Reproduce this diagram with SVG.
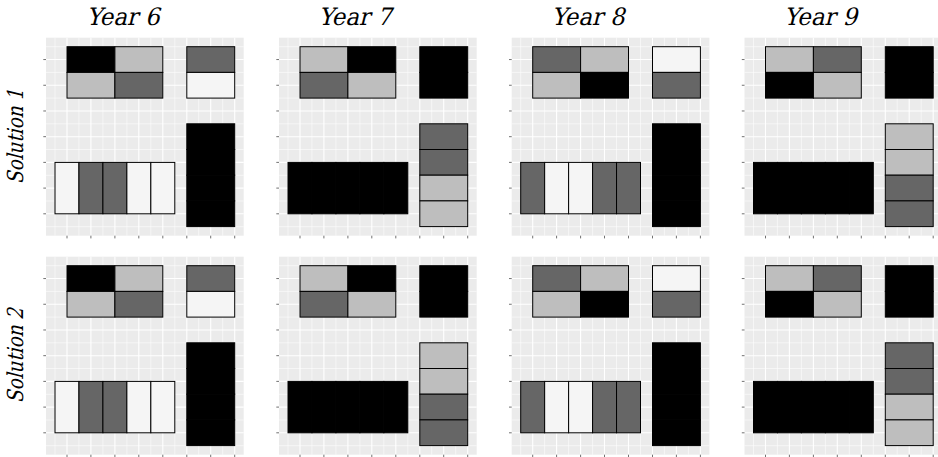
<svg xmlns="http://www.w3.org/2000/svg" xmlns:xlink="http://www.w3.org/1999/xlink" width="938" height="457" viewBox="0 0 938 457">
<style>
.maj{stroke:#fff;stroke-width:1.1;fill:none}
.min{stroke:#fff;stroke-width:0.55;fill:none}
.tick{stroke:#333;stroke-width:0.7;fill:none}
rect.t{stroke:#000;stroke-width:1}
.k{fill:#000}.d{fill:#666}.l{fill:#bebebe}.w{fill:#f5f5f5}
.tt{font-family:'DejaVu Serif',serif;font-size:24px;text-anchor:middle;fill:#000}
.st{font-family:'DejaVu Serif',serif;font-size:22px;text-anchor:middle;fill:#000}
</style>
<defs>
<g id="bg">
<rect x="0" y="0" width="197.7" height="198" fill="#ebebeb"/>
<path class="min" d="M9,0V198M32.9,0V198M56.9,0V198M80.9,0V198M104.8,0V198M128.8,0V198M152.7,0V198M176.7,0V198M0,9H197.7M0,34.7H197.7M0,60.4H197.7M0,86.1H197.7M0,111.8H197.7M0,137.6H197.7M0,163.3H197.7M0,189H197.7"/>
<path class="maj" d="M21,0V198M44.9,0V198M68.9,0V198M92.8,0V198M116.8,0V198M140.8,0V198M164.7,0V198M188.7,0V198M0,21.85H197.7M0,47.56H197.7M0,73.27H197.7M0,98.98H197.7M0,124.69H197.7M0,150.4H197.7M0,176.11H197.7"/>
<path class="tick" d="M21,198V200.7M44.9,198V200.7M68.9,198V200.7M92.8,198V200.7M116.8,198V200.7M140.8,198V200.7M164.7,198V200.7M188.7,198V200.7M-2.7,21.85H0M-2.7,47.56H0M-2.7,73.27H0M-2.7,98.98H0M-2.7,124.69H0M-2.7,150.4H0M-2.7,176.11H0"/>
</g>
</defs>
<g id="titles">
<text class="tt" transform="translate(123,25) skewX(-14)" textLength="73" lengthAdjust="spacingAndGlyphs">Year 6</text>
<text class="tt" transform="translate(355,25) skewX(-14)" textLength="73" lengthAdjust="spacingAndGlyphs">Year 7</text>
<text class="tt" transform="translate(588,25) skewX(-14)" textLength="73" lengthAdjust="spacingAndGlyphs">Year 8</text>
<text class="tt" transform="translate(820.5,25) skewX(-14)" textLength="73" lengthAdjust="spacingAndGlyphs">Year 9</text>
</g>
<g id="strips">
<text class="st" transform="translate(23,136.7) rotate(-90) skewX(-14)" textLength="95" lengthAdjust="spacingAndGlyphs">Solution 1</text>
<text class="st" transform="translate(23,355.7) rotate(-90) skewX(-14)" textLength="95" lengthAdjust="spacingAndGlyphs">Solution 2</text>
</g>

<!-- Row 1 -->
<g id="y6s1" transform="translate(46,37.7)">
<use xlink:href="#bg" href="#bg"/>
<rect class="t k" x="21" y="9" width="47.9" height="25.7"/><rect class="t l" x="68.9" y="9" width="47.9" height="25.7"/>
<rect class="t l" x="21" y="34.7" width="47.9" height="25.7"/><rect class="t d" x="68.9" y="34.7" width="47.9" height="25.7"/>
<rect class="t d" x="140.8" y="9" width="47.9" height="25.7"/><rect class="t w" x="140.8" y="34.7" width="47.9" height="25.7"/>
<rect class="t w" x="9" y="124.7" width="23.96" height="51.4"/><rect class="t d" x="32.96" y="124.7" width="23.96" height="51.4"/><rect class="t d" x="56.92" y="124.7" width="23.96" height="51.4"/><rect class="t w" x="80.88" y="124.7" width="23.96" height="51.4"/><rect class="t w" x="104.84" y="124.7" width="23.96" height="51.4"/>
<rect class="t k" x="140.8" y="86.1" width="47.9" height="25.7"/><rect class="t k" x="140.8" y="111.8" width="47.9" height="25.7"/><rect class="t k" x="140.8" y="137.5" width="47.9" height="25.7"/><rect class="t k" x="140.8" y="163.2" width="47.9" height="25.7"/>
</g>
<g id="y7s1" transform="translate(279,37.7)">
<use xlink:href="#bg" href="#bg"/>
<rect class="t l" x="21" y="9" width="47.9" height="25.7"/><rect class="t k" x="68.9" y="9" width="47.9" height="25.7"/>
<rect class="t d" x="21" y="34.7" width="47.9" height="25.7"/><rect class="t l" x="68.9" y="34.7" width="47.9" height="25.7"/>
<rect class="t k" x="140.8" y="9" width="47.9" height="25.7"/><rect class="t k" x="140.8" y="34.7" width="47.9" height="25.7"/>
<rect class="t k" x="9" y="124.7" width="23.96" height="51.4"/><rect class="t k" x="32.96" y="124.7" width="23.96" height="51.4"/><rect class="t k" x="56.92" y="124.7" width="23.96" height="51.4"/><rect class="t k" x="80.88" y="124.7" width="23.96" height="51.4"/><rect class="t k" x="104.84" y="124.7" width="23.96" height="51.4"/>
<rect class="t d" x="140.8" y="86.1" width="47.9" height="25.7"/><rect class="t d" x="140.8" y="111.8" width="47.9" height="25.7"/><rect class="t l" x="140.8" y="137.5" width="47.9" height="25.7"/><rect class="t l" x="140.8" y="163.2" width="47.9" height="25.7"/>
</g>
<g id="y8s1" transform="translate(511.7,37.7)">
<use xlink:href="#bg" href="#bg"/>
<rect class="t d" x="21" y="9" width="47.9" height="25.7"/><rect class="t l" x="68.9" y="9" width="47.9" height="25.7"/>
<rect class="t l" x="21" y="34.7" width="47.9" height="25.7"/><rect class="t k" x="68.9" y="34.7" width="47.9" height="25.7"/>
<rect class="t w" x="140.8" y="9" width="47.9" height="25.7"/><rect class="t d" x="140.8" y="34.7" width="47.9" height="25.7"/>
<rect class="t d" x="9" y="124.7" width="23.96" height="51.4"/><rect class="t w" x="32.96" y="124.7" width="23.96" height="51.4"/><rect class="t w" x="56.92" y="124.7" width="23.96" height="51.4"/><rect class="t d" x="80.88" y="124.7" width="23.96" height="51.4"/><rect class="t d" x="104.84" y="124.7" width="23.96" height="51.4"/>
<rect class="t k" x="140.8" y="86.1" width="47.9" height="25.7"/><rect class="t k" x="140.8" y="111.8" width="47.9" height="25.7"/><rect class="t k" x="140.8" y="137.5" width="47.9" height="25.7"/><rect class="t k" x="140.8" y="163.2" width="47.9" height="25.7"/>
</g>
<g id="y9s1" transform="translate(744.5,37.7)">
<use xlink:href="#bg" href="#bg"/>
<rect class="t l" x="21" y="9" width="47.9" height="25.7"/><rect class="t d" x="68.9" y="9" width="47.9" height="25.7"/>
<rect class="t k" x="21" y="34.7" width="47.9" height="25.7"/><rect class="t l" x="68.9" y="34.7" width="47.9" height="25.7"/>
<rect class="t k" x="140.8" y="9" width="47.9" height="25.7"/><rect class="t k" x="140.8" y="34.7" width="47.9" height="25.7"/>
<rect class="t k" x="9" y="124.7" width="23.96" height="51.4"/><rect class="t k" x="32.96" y="124.7" width="23.96" height="51.4"/><rect class="t k" x="56.92" y="124.7" width="23.96" height="51.4"/><rect class="t k" x="80.88" y="124.7" width="23.96" height="51.4"/><rect class="t k" x="104.84" y="124.7" width="23.96" height="51.4"/>
<rect class="t l" x="140.8" y="86.1" width="47.9" height="25.7"/><rect class="t l" x="140.8" y="111.8" width="47.9" height="25.7"/><rect class="t d" x="140.8" y="137.5" width="47.9" height="25.7"/><rect class="t d" x="140.8" y="163.2" width="47.9" height="25.7"/>
</g>

<!-- Row 2 -->
<g id="y6s2" transform="translate(46,256.7)">
<use xlink:href="#bg" href="#bg"/>
<rect class="t k" x="21" y="9" width="47.9" height="25.7"/><rect class="t l" x="68.9" y="9" width="47.9" height="25.7"/>
<rect class="t l" x="21" y="34.7" width="47.9" height="25.7"/><rect class="t d" x="68.9" y="34.7" width="47.9" height="25.7"/>
<rect class="t d" x="140.8" y="9" width="47.9" height="25.7"/><rect class="t w" x="140.8" y="34.7" width="47.9" height="25.7"/>
<rect class="t w" x="9" y="124.7" width="23.96" height="51.4"/><rect class="t d" x="32.96" y="124.7" width="23.96" height="51.4"/><rect class="t d" x="56.92" y="124.7" width="23.96" height="51.4"/><rect class="t w" x="80.88" y="124.7" width="23.96" height="51.4"/><rect class="t w" x="104.84" y="124.7" width="23.96" height="51.4"/>
<rect class="t k" x="140.8" y="86.1" width="47.9" height="25.7"/><rect class="t k" x="140.8" y="111.8" width="47.9" height="25.7"/><rect class="t k" x="140.8" y="137.5" width="47.9" height="25.7"/><rect class="t k" x="140.8" y="163.2" width="47.9" height="25.7"/>
</g>
<g id="y7s2" transform="translate(279,256.7)">
<use xlink:href="#bg" href="#bg"/>
<rect class="t l" x="21" y="9" width="47.9" height="25.7"/><rect class="t k" x="68.9" y="9" width="47.9" height="25.7"/>
<rect class="t d" x="21" y="34.7" width="47.9" height="25.7"/><rect class="t l" x="68.9" y="34.7" width="47.9" height="25.7"/>
<rect class="t k" x="140.8" y="9" width="47.9" height="25.7"/><rect class="t k" x="140.8" y="34.7" width="47.9" height="25.7"/>
<rect class="t k" x="9" y="124.7" width="23.96" height="51.4"/><rect class="t k" x="32.96" y="124.7" width="23.96" height="51.4"/><rect class="t k" x="56.92" y="124.7" width="23.96" height="51.4"/><rect class="t k" x="80.88" y="124.7" width="23.96" height="51.4"/><rect class="t k" x="104.84" y="124.7" width="23.96" height="51.4"/>
<rect class="t l" x="140.8" y="86.1" width="47.9" height="25.7"/><rect class="t l" x="140.8" y="111.8" width="47.9" height="25.7"/><rect class="t d" x="140.8" y="137.5" width="47.9" height="25.7"/><rect class="t d" x="140.8" y="163.2" width="47.9" height="25.7"/>
</g>
<g id="y8s2" transform="translate(511.7,256.7)">
<use xlink:href="#bg" href="#bg"/>
<rect class="t d" x="21" y="9" width="47.9" height="25.7"/><rect class="t l" x="68.9" y="9" width="47.9" height="25.7"/>
<rect class="t l" x="21" y="34.7" width="47.9" height="25.7"/><rect class="t k" x="68.9" y="34.7" width="47.9" height="25.7"/>
<rect class="t w" x="140.8" y="9" width="47.9" height="25.7"/><rect class="t d" x="140.8" y="34.7" width="47.9" height="25.7"/>
<rect class="t d" x="9" y="124.7" width="23.96" height="51.4"/><rect class="t w" x="32.96" y="124.7" width="23.96" height="51.4"/><rect class="t w" x="56.92" y="124.7" width="23.96" height="51.4"/><rect class="t d" x="80.88" y="124.7" width="23.96" height="51.4"/><rect class="t d" x="104.84" y="124.7" width="23.96" height="51.4"/>
<rect class="t k" x="140.8" y="86.1" width="47.9" height="25.7"/><rect class="t k" x="140.8" y="111.8" width="47.9" height="25.7"/><rect class="t k" x="140.8" y="137.5" width="47.9" height="25.7"/><rect class="t k" x="140.8" y="163.2" width="47.9" height="25.7"/>
</g>
<g id="y9s2" transform="translate(744.5,256.7)">
<use xlink:href="#bg" href="#bg"/>
<rect class="t l" x="21" y="9" width="47.9" height="25.7"/><rect class="t d" x="68.9" y="9" width="47.9" height="25.7"/>
<rect class="t k" x="21" y="34.7" width="47.9" height="25.7"/><rect class="t l" x="68.9" y="34.7" width="47.9" height="25.7"/>
<rect class="t k" x="140.8" y="9" width="47.9" height="25.7"/><rect class="t k" x="140.8" y="34.7" width="47.9" height="25.7"/>
<rect class="t k" x="9" y="124.7" width="23.96" height="51.4"/><rect class="t k" x="32.96" y="124.7" width="23.96" height="51.4"/><rect class="t k" x="56.92" y="124.7" width="23.96" height="51.4"/><rect class="t k" x="80.88" y="124.7" width="23.96" height="51.4"/><rect class="t k" x="104.84" y="124.7" width="23.96" height="51.4"/>
<rect class="t d" x="140.8" y="86.1" width="47.9" height="25.7"/><rect class="t d" x="140.8" y="111.8" width="47.9" height="25.7"/><rect class="t l" x="140.8" y="137.5" width="47.9" height="25.7"/><rect class="t l" x="140.8" y="163.2" width="47.9" height="25.7"/>
</g>
</svg>
